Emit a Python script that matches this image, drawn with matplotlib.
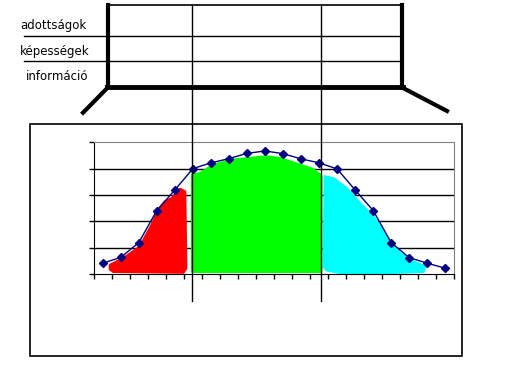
import matplotlib.pyplot as plt
import matplotlib.transforms as mtransforms
from matplotlib.patches import Polygon, Rectangle

# curve values, one per category (20 categories)
curve = [0.41, 0.63, 1.19, 2.41, 3.19, 4.0, 4.22, 4.38, 4.58, 4.67,
         4.57, 4.37, 4.22, 3.99, 3.19, 2.41, 1.19, 0.62, 0.41, 0.22]
cat_x = [i + 0.5 for i in range(len(curve))]

# hand-painted areas under the curve (x in category units, y in value units)
red_x = [0.91, 0.91, 1.65, 2.57, 3.22, 3.59, 3.96, 4.33, 4.79, 5.06, 5.12, 4.97, 1.09]
red_y = [0.18, 0.34, 0.59, 1.04, 1.86, 2.43, 2.75, 2.87, 3.22, 3.13, 0.22, 0.06, 0.09]
green_x = [5.47, 5.47, 5.90, 6.64, 7.74, 9.59, 10.33, 11.44, 12.18, 12.55, 12.61, 12.61]
green_y = [0.09, 3.76, 3.82, 4.14, 4.33, 4.46, 4.39, 4.14, 3.97, 3.76, 3.70, 0.09]
cyan_x = [12.83, 13.29, 14.03, 14.77, 15.51, 16.25, 16.99, 17.73, 18.37, 18.28, 14.03, 12.92, 12.77]
cyan_y = [3.70, 3.63, 3.25, 2.68, 2.18, 1.42, 0.78, 0.47, 0.28, 0.09, 0.0, 0.15, 0.28]

# where the three zones meet (category units)
zone_edges = [5.43, 12.6]

row_labels = ['adottságok', 'képességek', 'információ']

W, H = 512, 384
fig = plt.figure(figsize=(W / 100, H / 100), dpi=100)

# overlay in pixel coordinates for the drawing parts
ov = fig.add_axes([0, 0, 1, 1], zorder=3)
ov.set_xlim(0, W)
ov.set_ylim(H, 0)
ov.axis('off')
ov.patch.set_alpha(0)

# chart
ax = fig.add_axes([93.7 / W, (H - 274) / H, 360.6 / W, 131.7 / H], zorder=2)
ax.set_xlim(0, 20)
ax.set_ylim(0, 5)
for yy in range(1, 5):
    ax.axhline(yy, color='black', lw=1, zorder=1)
for xs, ys, col in [(red_x, red_y, '#ff0000'), (green_x, green_y, '#00ff00'),
                    (cyan_x, cyan_y, '#00ffff')]:
    ax.add_patch(Polygon(list(zip(xs, ys)), closed=True, facecolor=col,
                         edgecolor=col, lw=2, joinstyle='round', zorder=2))
ax.plot(cat_x, curve, color='#000080', lw=1, marker='D', ms=4, zorder=4)
ax.set_xticks(range(21))
ax.set_yticks(range(6))
ax.set_xticklabels([])
ax.set_yticklabels([])
ax.tick_params(axis='both', direction='out', length=3.5, width=1, color='black')
ax.spines['left'].set_color('black')
ax.spines['bottom'].set_color('black')
ax.spines['top'].set_color('#808080')
ax.spines['right'].set_color('#808080')
ax.patch.set_alpha(0)

# outer chart frame
ov.add_patch(Rectangle((29.7, 124.3), 432.6, 232, fill=False, ec='black', lw=1.2))

# table on top
ov.plot([108, 401.7], [5.3, 5.3], color='black', lw=1.2)
ov.plot([108, 108], [5.3, 87.3], color='black', lw=3)
ov.plot([401.7, 401.7], [5.3, 87.3], color='black', lw=3)
ov.plot([106.5, 403.2], [87.3, 87.3], color='black', lw=3.5)
ov.plot([24, 401.7], [36, 36], color='black', lw=1)
ov.plot([24, 401.7], [60.7, 60.7], color='black', lw=1)
ov.plot([108, 83], [87.3, 112.7], color='black', lw=3)
ov.plot([401.7, 447], [87.3, 111], color='black', lw=3)

label_y = [25.7, 51.7, 76.5]
label_x = [20, 19.5, 26]
for txt, lx, ly in zip(row_labels, label_x, label_y):
    ov.text(lx, ly, txt, ha='left', va='center', fontsize=8.5, color='black')

# zone separators, aligned with the chart's category scale
blend = mtransforms.blended_transform_factory(ax.transData, ov.transData)
for e in zone_edges:
    ov.plot([e, e], [5.3, 300.5], color='black', lw=1, transform=blend)

fig.savefig('out.png', dpi=100)
